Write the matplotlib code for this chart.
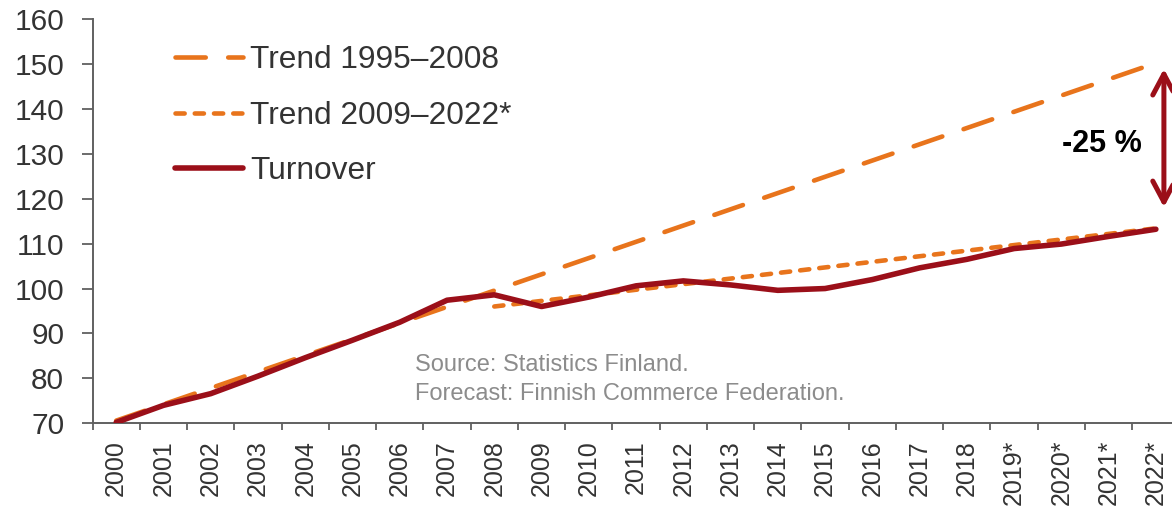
import matplotlib
matplotlib.use("Agg")
import matplotlib.pyplot as plt

plt.rcParams['font.family'] = ['Liberation Sans', 'DejaVu Sans']

years = ['2000', '2001', '2002', '2003', '2004', '2005', '2006', '2007', '2008',
         '2009', '2010', '2011', '2012', '2013', '2014', '2015', '2016', '2017',
         '2018', '2019*', '2020*', '2021*', '2022*']
turnover = [70.2, 74.0, 76.6, 80.5, 84.6, 88.5, 92.5, 97.4, 98.6, 96.0, 98.1,
            100.6, 101.7, 100.8, 99.6, 100.0, 102.0, 104.6, 106.5, 108.9,
            109.9, 111.6, 113.2]
trend1_years = ['2000', '2022*']
trend1_vals = [70.6, 150.2]
trend2_years = ['2008', '2022*']
trend2_vals = [96.0, 113.4]

yticks = [70, 80, 90, 100, 110, 120, 130, 140, 150, 160]

ORANGE = '#E8741C'
RED = '#9B0F19'
TXT = '#333333'
AXC = '#606060'

fig = plt.figure(figsize=(11.72, 5.09), dpi=100)
ax = fig.add_axes([92.6 / 1172, (509 - 423.3) / 509, (1179.5 - 92.6) / 1172, (423.3 - 19) / 509])

xi = {y: i for i, y in enumerate(years)}

ax.plot([xi[y] for y in trend1_years], trend1_vals, color=ORANGE, lw=3.3,
        dashes=(6.6, 4.9), dash_capstyle='round', label='Trend 1995\u20132008', zorder=2)
ax.plot([xi[y] for y in trend2_years], trend2_vals, color=ORANGE, lw=3.3,
        dashes=(2.0, 2.2), dash_capstyle='round', label='Trend 2009\u20132022*', zorder=2)
ax.plot(range(len(years)), turnover, color=RED, lw=4.0, solid_capstyle='round',
        solid_joinstyle='round', label='Turnover', zorder=3)

ax.set_xlim(-0.5, len(years) - 0.5)
ax.set_ylim(70, 160)
ax.set_yticks(yticks)
ax.set_yticklabels([str(v) for v in yticks])

ax.set_xticks(range(len(years)))
ax.set_xticklabels(years, rotation=90)
ax.set_xticks([i - 0.5 for i in range(len(years) + 1)], minor=True)
ax.tick_params(axis='x', which='major', length=0, pad=12, labelsize=18, labelcolor=TXT)
ax.tick_params(axis='x', which='minor', length=5, width=1.3, color=AXC, direction='out')
ax.tick_params(axis='y', which='major', length=8, width=1.3, color=AXC, pad=12.5,
               labelsize=21.5, labelcolor=TXT)

for s in ['top', 'right']:
    ax.spines[s].set_visible(False)
for s in ['left', 'bottom']:
    ax.spines[s].set_color(AXC)
    ax.spines[s].set_linewidth(1.4)

leg = ax.legend(loc='upper left', bbox_to_anchor=(175 / 1172, 1 - 45.5 / 509),
                bbox_transform=fig.transFigure, frameon=False, fontsize=22.8,
                handlelength=2.15, handletextpad=0.22, labelspacing=0.8, borderpad=0,
                borderaxespad=0)
for t in leg.get_texts():
    t.set_color(TXT)

ax.text(415 / 1172, 1 - 371 / 509, 'Source: Statistics Finland.', transform=fig.transFigure,
        fontsize=17, color='#8c8c8c', va='baseline', ha='left')
ax.text(415 / 1172, 1 - 400 / 509, 'Forecast: Finnish Commerce Federation.', transform=fig.transFigure,
        fontsize=17, color='#8c8c8c', va='baseline', ha='left')

ax.annotate('', xy=(22.17, 148.9), xytext=(22.17, 118.1),
            arrowprops=dict(arrowstyle='<->,head_length=0.75,head_width=0.4', color=RED, lw=3.6,
                            shrinkA=0, shrinkB=0, mutation_scale=20))
ax.text(21.70, 130.5, '-25 %', fontsize=22, fontweight='bold', color='black',
        ha='right', va='baseline')

fig.savefig('out.png', dpi=100)
